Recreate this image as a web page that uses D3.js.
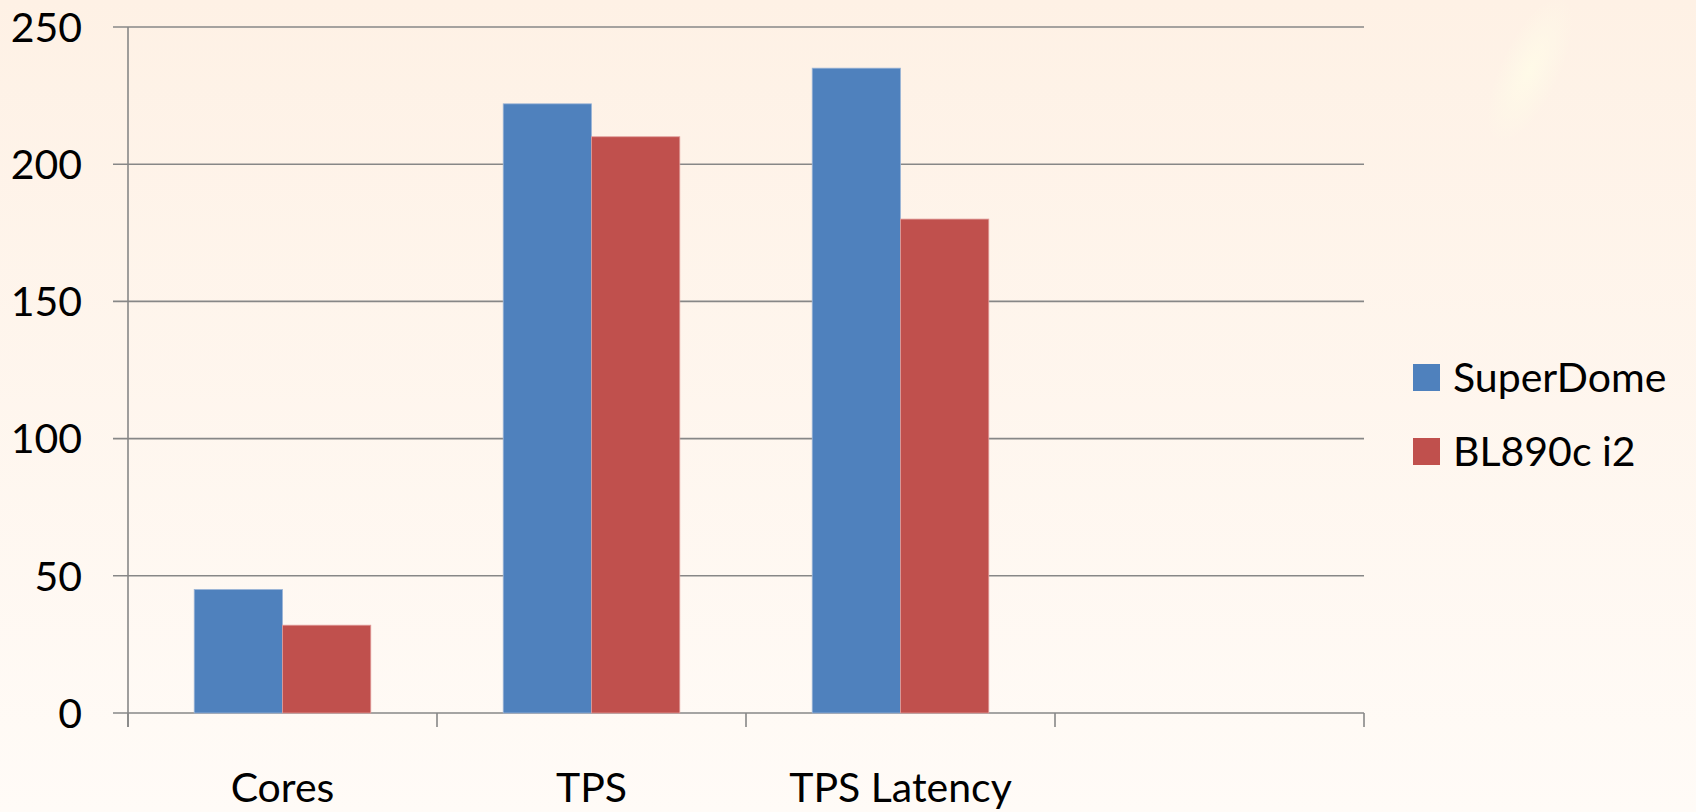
<!DOCTYPE html>
<html>
<head>
<meta charset="utf-8">
<script src="https://cdn.jsdelivr.net/npm/d3@7"></script>
<style>
  html, body { margin: 0; padding: 0; }
  body { width: 1696px; height: 812px; overflow: hidden; }
  svg { display: block; font-family: Lato, "Open Sans", sans-serif; }
</style>
</head>
<body>
<svg id="chart" width="1696" height="812"></svg>
<script>
// data
const categories = ["Cores", "TPS", "TPS Latency", ""];
const seriesNames = ["SuperDome", "BL890c i2"];
const superDome = [45, 222, 235];
const bl890 = [32, 210, 180];
const yTicks = [0, 50, 100, 150, 200, 250];
const colors = ["#4f81bd", "#c0504d"];

const rows = categories.slice(0, 3).map((c, i) => ({
  cat: c,
  vals: [superDome[i], bl890[i]]
}));

const svg = d3.select("#chart");

// background
const defs = svg.append("defs");
const bg = defs.append("linearGradient")
  .attr("id", "bg")
  .attr("x1", 0).attr("y1", 0).attr("x2", 0).attr("y2", 1);
bg.append("stop").attr("offset", "0%").attr("stop-color", "#fef1e5");
bg.append("stop").attr("offset", "100%").attr("stop-color", "#fffbf7");
const glow = defs.append("radialGradient").attr("id", "glow");
glow.append("stop").attr("offset", "0%").attr("stop-color", "#fffbe8").attr("stop-opacity", 0.9);
glow.append("stop").attr("offset", "100%").attr("stop-color", "#fffbe8").attr("stop-opacity", 0);

svg.append("rect")
  .attr("width", 1696).attr("height", 812)
  .attr("fill", "url(#bg)");
svg.append("ellipse")
  .attr("cx", 1530).attr("cy", 70)
  .attr("rx", 30).attr("ry", 80)
  .attr("transform", "rotate(25 1530 70)")
  .attr("fill", "url(#glow)");

// scales
const x0 = d3.scaleBand()
  .domain(categories)
  .range([128, 1364])
  .paddingInner(0)
  .paddingOuter(0);

const x1 = d3.scaleBand()
  .domain(seriesNames)
  .range([0, x0.bandwidth()])
  .paddingInner(0)
  .paddingOuter(0.75);

const y = d3.scaleLinear().domain([0, 250]).range([713, 27]);

// gridlines + y labels
const grid = svg.append("g");
grid.selectAll("line")
  .data(yTicks)
  .enter()
  .append("line")
  .attr("x1", 113)
  .attr("x2", 1364)
  .attr("y1", (d) => y(d))
  .attr("y2", (d) => y(d))
  .attr("stroke", "#878787")
  .attr("stroke-width", 1.6);

grid.selectAll("text")
  .data(yTicks)
  .enter()
  .append("text")
  .attr("x", 82)
  .attr("y", (d) => y(d))
  .attr("dy", "0.36em")
  .attr("text-anchor", "end")
  .attr("font-size", 41)
  .attr("fill", "#000")
  .text((d) => d);

// bars
const groups = svg.selectAll(".cat")
  .data(rows)
  .enter()
  .append("g")
  .attr("transform", (d) => `translate(${x0(d.cat)},0)`);

groups.selectAll("rect")
  .data((d) => d.vals.map((v, i) => ({ name: seriesNames[i], v, i })))
  .enter()
  .append("rect")
  .attr("x", (d) => x1(d.name))
  .attr("width", x1.bandwidth())
  .attr("y", (d) => y(d.v))
  .attr("height", (d) => y(0) - y(d.v))
  .attr("fill", (d) => colors[d.i])
  .attr("stroke", (d) => (d.i === 0 ? "#9bb5d6" : "#e09c9a"))
  .attr("stroke-width", 0.8);

// axes
const xTicks = categories.map((c) => x0(c)).concat([x0.range()[1]]);
svg.append("line")
  .attr("x1", 128).attr("x2", 128)
  .attr("y1", y(250)).attr("y2", y(0) + 14)
  .attr("stroke", "#878787").attr("stroke-width", 1.6);
svg.append("g")
  .selectAll("line")
  .data(xTicks)
  .enter()
  .append("line")
  .attr("x1", (d) => d).attr("x2", (d) => d)
  .attr("y1", y(0)).attr("y2", y(0) + 14)
  .attr("stroke", "#878787").attr("stroke-width", 1.6);

svg.append("g")
  .selectAll("text")
  .data(categories)
  .enter()
  .append("text")
  .attr("x", (d) => x0(d) + x0.bandwidth() / 2)
  .attr("y", 802)
  .attr("text-anchor", "middle")
  .attr("font-size", 41)
  .attr("fill", "#000")
  .text((d) => d);

// legend
const legend = svg.append("g")
  .selectAll("g")
  .data(seriesNames)
  .enter()
  .append("g")
  .attr("transform", (d, i) => `translate(1413,${364 + i * 74})`);

legend.append("rect")
  .attr("width", 27).attr("height", 27)
  .attr("fill", (d, i) => colors[i]);

legend.append("text")
  .attr("x", 40)
  .attr("y", 28)
  .attr("font-size", 41)
  .attr("fill", "#000")
  .text((d) => d);
</script>
</body>
</html>
